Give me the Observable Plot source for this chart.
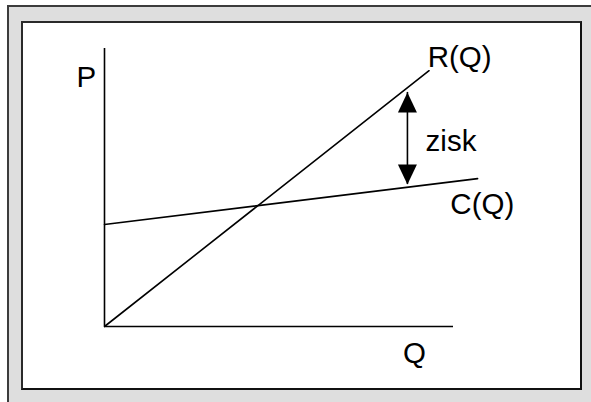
<!DOCTYPE html>
<html>
<head>
<meta charset="utf-8">
<script src="https://cdn.jsdelivr.net/npm/d3@7"></script>
<script src="https://cdn.jsdelivr.net/npm/@observablehq/plot@0.6"></script>
<style>
  html, body { margin: 0; padding: 0; width: 591px; height: 402px; overflow: hidden; background: #fff; }
  #outer { position: absolute; left: 7px; top: 5px; width: 620px; height: 420px; background: #dedede;
           border-left: 2px solid #3c3c3c; border-top: 2px solid #3c3c3c; }
  #inner { position: absolute; left: 21px; top: 21px; width: 561px; height: 369px; box-sizing: border-box;
           background: #fff; border: 2px solid #2a2a2a; border-right-color: #111; border-bottom-color: #111; }
  #chart { position: absolute; left: 0; top: 0; }
</style>
</head>
<body>
<div id="outer"></div>
<div id="inner"></div>
<div id="chart"></div>
<script>
// Axis extents (data units)
const qMax = 10;
const pMax = 10;

// Revenue line R(Q)
const revenueQ = [0, 9.3];
const revenueP = [0, 9.2];

// Cost line C(Q)
const costQ = [0, 10.69];
const costP = [3.67, 5.32];

// Profit ("zisk") arrow between the two lines
const profitQ = 8.68;
const profitTop = 8.42;
const profitBottom = 5.11;

// Labels
const labelText = ["P", "R(Q)", "zisk", "C(Q)", "Q"];
const labelQ = [-0.8, 9.26, 9.2, 9.91, 8.55];
const labelP = [8.63, 9.35, 6.33, 4.06, -1.33];

const revenue = revenueQ.map((q, i) => ({q, p: revenueP[i]}));
const cost = costQ.map((q, i) => ({q, p: costP[i]}));
const labels = labelText.map((t, i) => ({t, q: labelQ[i], p: labelP[i]}));

const headLen = 20;
const triangle = {
  draw(context, l, r) {
    context.moveTo(-r, 0);
    context.lineTo(0, -l);
    context.lineTo(r, 0);
    context.closePath();
  }
};

const font = "'Liberation Sans', Arial, Helvetica, sans-serif";

const chart = Plot.plot({
  width: 591,
  height: 402,
  marginTop: 0, marginRight: 0, marginBottom: 0, marginLeft: 0,
  style: {background: "transparent", overflow: "visible"},
  x: {domain: [0, qMax], range: [104, 453], axis: null},
  y: {domain: [0, pMax], range: [326, 48], axis: null},
  marks: [
    Plot.ruleX([0], {y1: 0, y2: pMax, stroke: "#000", strokeWidth: 1.6}),
    Plot.ruleY([0], {x1: 0, x2: qMax, stroke: "#000", strokeWidth: 1.6}),
    Plot.line(revenue, {x: "q", y: "p", stroke: "#000", strokeWidth: 1.6}),
    Plot.line(cost, {x: "q", y: "p", stroke: "#000", strokeWidth: 1.6}),
    Plot.ruleX([profitQ], {y1: profitBottom, y2: profitTop, stroke: "#000", strokeWidth: 1.6}),
    Plot.vector([{q: profitQ, p: profitTop}], {x: "q", y: "p", length: headLen, r: 9.5, anchor: "end",
      rotate: 0, shape: triangle, fill: "#000", stroke: "none"}),
    Plot.vector([{q: profitQ, p: profitBottom}], {x: "q", y: "p", length: headLen, r: 9.5, anchor: "end",
      rotate: 180, shape: triangle, fill: "#000", stroke: "none"}),
    Plot.text(labels, {x: "q", y: "p", text: "t", textAnchor: "start", lineAnchor: "bottom",
      fontSize: 29.5, fontFamily: font, fill: "#000"})
  ]
});
document.getElementById("chart").appendChild(chart);
</script>
</body>
</html>
